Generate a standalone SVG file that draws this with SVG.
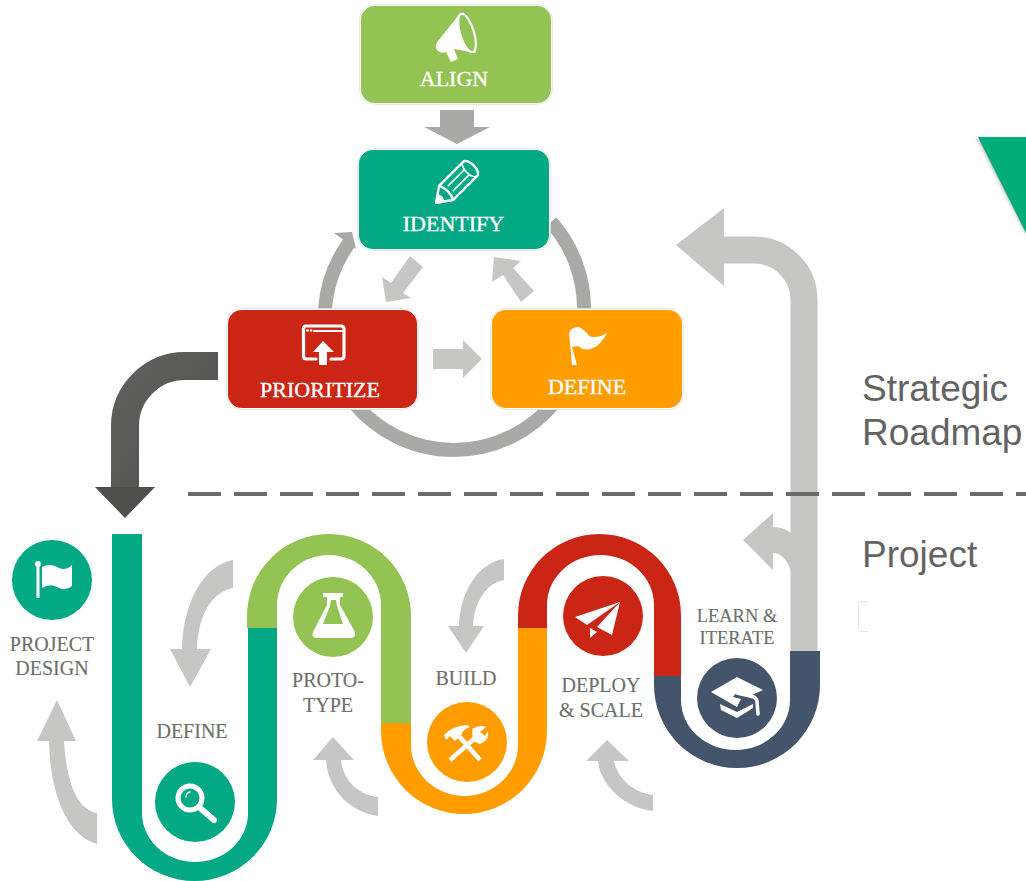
<svg xmlns="http://www.w3.org/2000/svg" width="1026" height="881" viewBox="0 0 1026 881">
<style>
.halo{fill:#fff;stroke:#e0e0e0;stroke-width:.8}
.lb{font-family:"Liberation Serif","Times New Roman",serif;font-size:22px;fill:#fff;stroke:#fff;stroke-width:.35;text-anchor:middle}
.st{font-family:"Liberation Serif","Times New Roman",serif;font-size:20px;fill:#6d6f6b;stroke:#6d6f6b;stroke-width:.15;text-anchor:middle}
.sd{font-family:"Liberation Sans",Arial,sans-serif;font-size:37px;fill:#636363}
.g{fill:#c6c6c5}
.ring{fill:none;stroke:#a9a9a8;stroke-width:14}
.w{fill:#fff}
.wl{fill:none;stroke:#fff;stroke-linecap:round;stroke-linejoin:round}
</style>
<defs>
<filter id="soft" x="-20%" y="-20%" width="140%" height="140%"><feGaussianBlur stdDeviation="1.5"/></filter>
<linearGradient id="dark" x1="0" y1="0" x2="1" y2="1"><stop offset="0" stop-color="#5f5f5d"/><stop offset="1" stop-color="#4f504e"/></linearGradient>
</defs>
<rect width="1026" height="881" fill="#fff"/>

<g id="corner-triangle">
<polygon points="977,138 1026,235 1026,138" fill="#888" opacity=".6" filter="url(#soft)"/>
<polygon points="978,137 1026,233 1026,137" fill="#00ac7a"/>
</g>

<g id="connectors">
<path class="ring" d="M551 222 A130 130 0 0 1 584 309"/>
<path class="ring" d="M354 403 A130 130 0 0 0 554 403"/>
<path class="ring" d="M325 309 A130 130 0 0 1 349 243"/>
<polygon points="334,233 352,232 356,249" fill="#a9a9a8"/>
<polygon points="440,110 474,110 474,127 490,127 457,144 424,127 440,127" fill="#a9a9a8"/>
<polygon class="g" points="410,256 423,267 403,293 411,298 386,302 382,277 391,283"/>
<polygon class="g" points="534,291 521,302 503,275 492,282 494,257 521,261 513,268"/>
<polygon class="g" points="433,349 463,349 463,340 482,359 463,378 463,369 433,369"/>
<path d="M218 366 H185 A60 60 0 0 0 125 426 V490" fill="none" stroke="url(#dark)" stroke-width="28"/>
<polygon points="95,487 155,487 125,518" fill="#4f504e"/>
<path d="M804 652 V300 A50 50 0 0 0 754 250 H720" fill="none" stroke="#c6c6c5" stroke-width="27"/>
<polygon class="g" points="676,245 724,208 724,286"/>
<path class="g" d="M743 540 L773 513 V527 C780 527 786 529 791 533 V571 C788 562 782 553 773 553 V570 Z"/>
<path d="M188 494 H1026" stroke="#6a6a6a" stroke-width="4" stroke-dasharray="33 13" fill="none"/>
<path class="g" d="M57 700 L76 741 H64 C67 790 80 810 97 813 V844 C65 835 50 790 49 741 H37 Z"/>
<path class="g" d="M190 687 L170 649 H182 C183 600 205 565 233 560 V588 C212 592 198 615 197 649 H211 Z"/>
<path class="g" d="M333 737 L354 760 H341 C343 780 358 795 378 797 V816 C350 812 328 790 326 760 H313 Z"/>
<path class="g" d="M466 653 L448 626 H459 C460 590 480 562 504 559 V580 C486 583 474 603 473 626 H484 Z"/>
<path class="g" d="M607 740 L629 761 H614 C618 780 635 793 653 795 V811 C625 808 600 785 598 761 H586 Z"/>
</g>

<g id="track">
<path fill="#03a884" d="M112 534 H142 V813 A53 49 0 0 0 248 813 V628 H277 V799 A82.5 82 0 0 1 112 799 Z"/>
<path fill="#92c353" d="M247 628 V616 A82 82 0 0 1 411 616 V723 H381 V605 A52 50 0 0 0 277 605 V628 Z"/>
<path fill="#ff9c00" d="M381 723 H411 V745 A53.5 51 0 0 0 518 745 V628 H547 V731 A83 83 0 0 1 381 731 Z"/>
<path fill="#cb2515" d="M518 628 V615.5 A81.5 81.5 0 0 1 681 615.5 V676 H654 V605 A53.5 50 0 0 0 547 605 V628 Z"/>
<path fill="#44546a" d="M654 676 H681 V700 A54.5 50 0 0 0 790 700 V651 H820 V685 A83 83 0 0 1 654 685 Z"/>
</g>

<g id="align">
<rect class="halo" x="359.5" y="4.5" width="193" height="100" rx="16"/>
<rect x="361" y="6" width="190" height="97" rx="14" fill="#92c353"/>
<path class="w" d="M458 16 L438 41 Q434 46 437 50 Q440 54 446 52 L451 62 L458 59 L454 49 L476 53 Z"/>
<ellipse cx="467" cy="33" rx="7" ry="20" transform="rotate(-17 467 33)" fill="#92c353" stroke="#fff" stroke-width="2.2"/>
<text class="lb" x="454" y="86">ALIGN</text>
</g>

<g id="identify">
<rect class="halo" x="357.5" y="148.5" width="193" height="102" rx="16"/>
<rect x="359" y="150" width="190" height="99" rx="14" fill="#03a884"/>
<g transform="translate(456 183) rotate(-45)" fill="none" stroke="#fff" stroke-width="2.4" stroke-linejoin="round">
<path d="M-28 0 L-14 -10 H20 A5 10 0 0 1 20 10 H-14 Z"/>
<path d="M-14 -10 Q-9 0 -14 10"/>
<path d="M-8 -3.5 H16 M-8 3.5 H16 M20 -10 A5 10 0 0 0 20 10" stroke-width="1.6"/>
<path d="M-28 0 L-22 -4 Q-19 0 -22 4 Z" fill="#fff"/>
</g>
<text class="lb" x="453.5" y="231">IDENTIFY</text>
</g>

<g id="prioritize">
<rect class="halo" x="226.5" y="308.5" width="192" height="101" rx="16"/>
<rect x="228" y="310" width="189" height="98" rx="14" fill="#cb2515"/>
<path class="wl" stroke-width="3.2" d="M316 359 H306 Q303.5 359 303.5 356 V329 Q303.5 326 306 326 H341 Q344 326 344 329 V356 Q344 359 341 359 H331"/>
<path class="wl" stroke-width="2" d="M314 331 H342"/>
<circle class="w" cx="307.5" cy="330.5" r="1.3"/><circle class="w" cx="311" cy="330.5" r="1.3"/>
<polygon class="w" points="323,341 334,352 327,352 327,365 319,365 319,352 313,352"/>
<text class="lb" x="320" y="397">PRIORITIZE</text>
</g>

<g id="define-top">
<rect class="halo" x="490.5" y="308.5" width="193" height="101" rx="16"/>
<rect x="492" y="310" width="190" height="98" rx="14" fill="#ff9c00"/>
<path class="w" d="M569 333 Q572 326 579 327 Q586 331 589 336 Q597 339 607 333 Q601 345 593 348 Q585 352 578 346 L572 347 L577 365 L572 365 Z"/>
<text class="lb" x="587" y="394">DEFINE</text>
</g>

<g id="project-design">
<circle cx="52" cy="580" r="40" fill="#03a884"/>
<circle class="w" cx="38" cy="564" r="3"/>
<rect class="w" x="36.5" y="565" width="3" height="33"/>
<path class="w" d="M42 567 Q50 563 57 567 Q65 572 72 565 V586 Q65 592 57 587 Q50 583 42 588 Z"/>
<text class="st" x="52" y="651">PROJECT</text>
<text class="st" x="52" y="675">DESIGN</text>
</g>

<g id="define-step">
<circle cx="195" cy="802" r="40" fill="#03a884"/>
<circle cx="190" cy="798" r="12" fill="none" stroke="#fff" stroke-width="5"/>
<path class="wl" stroke-width="6" d="M200 808 L214 820"/>
<path class="wl" stroke-width="1.5" d="M186 797 Q186 793 190 792"/>
<text class="st" x="192" y="738">DEFINE</text>
</g>

<g id="prototype">
<circle cx="333" cy="617" r="40" fill="#92c353"/>
<path class="w" fill-rule="evenodd" d="M323 593 H343 V597 H340 V605 L355 632 Q356 638 350 638 H317 Q311 638 313 632 L327 605 V597 H323 Z M331 600 L330 606 L323 624 H343 L337 606 L336 600 Z"/>
<text class="st" x="328" y="687">PROTO-</text>
<text class="st" x="328" y="712">TYPE</text>
</g>

<g id="build">
<circle cx="467" cy="742" r="40" fill="#ff9c00"/>
<path class="wl" stroke-width="4.5" style="stroke-linecap:butt" d="M480 760 L458 735"/>
<path class="w" d="M444 735 Q452 726 467 725 L470 727 Q462 730 462 734 L455 741 L450 736 L446 740 Z"/>
<path class="wl" stroke-width="4.5" style="stroke-linecap:butt" d="M450 760 L474 739"/>
<path class="w" d="M472 729 Q480 724 486 727 L480 732 L485 736 L488 731 Q490 740 480 744 L473 741 Z"/>
<text class="st" x="466" y="685">BUILD</text>
</g>

<g id="deploy">
<circle cx="603" cy="616" r="40" fill="#cb2515"/>
<polygon class="w" points="575,617 620,602 587,625"/>
<polygon class="w" points="620,602 612,635 597,627"/>
<polygon class="w" points="590,628 590,638 597,632"/>
<text class="st" x="601" y="692">DEPLOY</text>
<text class="st" x="601" y="717">&amp; SCALE</text>
</g>

<g id="learn">
<circle cx="737" cy="698" r="40" fill="#44546a"/>
<polygon class="w" points="711,692 737,677 763,690 752,695 736,693 733,697 741,699 737,707"/>
<path class="w" d="M720 704 L737 712 L753 704 L753 708 L737 718 L721 710 Z"/>
<path class="wl" stroke-width="3.5" d="M737 693 L754 697 Q757 699 757 702 L758 714"/>
<text class="st" style="font-size:18.5px" x="737" y="622">LEARN &amp;</text>
<text class="st" style="font-size:18.5px" x="737" y="644">ITERATE</text>
</g>

<g id="side-labels">
<text class="sd" x="862" y="401">Strategic</text>
<text class="sd" x="862" y="445">Roadmap</text>
<text class="sd" x="862" y="567">Project</text>
<path d="M868 601.5 H862 Q858.5 601.5 858.5 605 V628 Q858.5 631.5 862 631.5 H868" fill="none" stroke="#e4e4e4" stroke-width="1"/>
</g>
</svg>
